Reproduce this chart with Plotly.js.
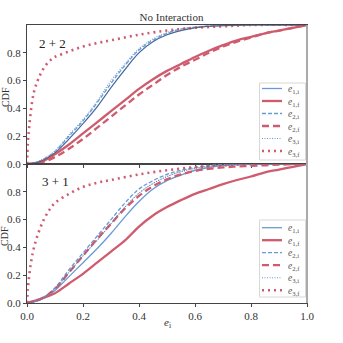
<!DOCTYPE html>
<html>
<head>
<meta charset="utf-8">
<script src="https://cdn.plot.ly/plotly-3.0.1.min.js"></script>
<style>
  body { margin: 0; background: #fff; }
  #plot { width: 343px; height: 343px; }
</style>
</head>
<body>
<div id="plot"></div>
<script>
// eccentricity grids (x) and CDF values
var xi = [0, 0.02, 0.05, 0.1, 0.15, 0.2, 0.25, 0.3, 0.35, 0.4, 0.45, 0.5, 0.55, 0.6, 0.65, 0.7, 0.8, 0.9, 1.0];
var xf = [0, 0.05, 0.1, 0.15, 0.2, 0.25, 0.3, 0.35, 0.4, 0.45, 0.5, 0.55, 0.6, 0.65, 0.7, 0.75, 0.8, 0.85, 0.9, 0.95, 1.0];
var x3f = [0, 0.003, 0.008, 0.015, 0.025, 0.04, 0.06, 0.08, 0.1, 0.15, 0.2, 0.25, 0.3, 0.4, 0.5, 0.6, 0.7, 0.8, 1.0];

// top panel: 2+2
var top_e1i = [0, 0.005, 0.02, 0.08, 0.18, 0.29, 0.41, 0.55, 0.68, 0.80, 0.88, 0.93, 0.96, 0.98, 0.99, 0.995, 1, 1, 1];
var top_e2i = [0, 0.006, 0.025, 0.09, 0.2, 0.31, 0.44, 0.58, 0.71, 0.82, 0.89, 0.94, 0.97, 0.985, 0.993, 0.997, 1, 1, 1];
var top_e3i = [0, 0.007, 0.028, 0.095, 0.21, 0.32, 0.45, 0.60, 0.72, 0.83, 0.90, 0.945, 0.97, 0.985, 0.993, 0.997, 1, 1, 1];
var top_e1f = [0, 0.015, 0.07, 0.14, 0.22, 0.30, 0.38, 0.46, 0.54, 0.61, 0.67, 0.72, 0.77, 0.815, 0.855, 0.89, 0.915, 0.94, 0.96, 0.98, 1];
var top_e2f = [0, 0.01, 0.05, 0.11, 0.18, 0.26, 0.34, 0.42, 0.50, 0.57, 0.64, 0.70, 0.75, 0.80, 0.845, 0.88, 0.91, 0.94, 0.96, 0.98, 1];
var top_e3f = [0, 0.15, 0.27, 0.40, 0.52, 0.61, 0.69, 0.74, 0.77, 0.81, 0.845, 0.87, 0.89, 0.93, 0.96, 0.98, 0.99, 1, 1];

// bottom panel: 3+1
var bot_e1i = [0, 0.006, 0.025, 0.09, 0.19, 0.29, 0.39, 0.50, 0.62, 0.73, 0.82, 0.88, 0.92, 0.955, 0.975, 0.988, 0.997, 1, 1];
var bot_e2i = [0, 0.008, 0.03, 0.11, 0.24, 0.36, 0.48, 0.60, 0.72, 0.82, 0.88, 0.925, 0.955, 0.975, 0.988, 0.995, 1, 1, 1];
var bot_e3i = [0, 0.007, 0.028, 0.10, 0.22, 0.34, 0.45, 0.57, 0.69, 0.79, 0.86, 0.91, 0.945, 0.968, 0.983, 0.992, 0.998, 1, 1];
var bot_e1f = [0, 0.03, 0.07, 0.14, 0.21, 0.29, 0.37, 0.45, 0.55, 0.63, 0.69, 0.74, 0.785, 0.82, 0.855, 0.885, 0.91, 0.94, 0.96, 0.98, 1];
var bot_e2f = [0, 0.03, 0.10, 0.22, 0.34, 0.46, 0.57, 0.68, 0.77, 0.84, 0.89, 0.925, 0.95, 0.965, 0.975, 0.982, 0.987, 0.991, 0.995, 0.998, 1];
var bot_e3f = [0, 0.10, 0.20, 0.30, 0.40, 0.50, 0.60, 0.67, 0.72, 0.785, 0.835, 0.865, 0.885, 0.925, 0.955, 0.978, 0.99, 1, 1];

var names = ['<i>e</i><sub>1,i</sub>', '<i>e</i><sub>1,f</sub>', '<i>e</i><sub>2,i</sub>',
             '<i>e</i><sub>2,f</sub>', '<i>e</i><sub>3,i</sub>', '<i>e</i><sub>3,f</sub>'];
var panelLabels = ['2 + 2', '3 + 1'];
var tickVals = [0, 0.2, 0.4, 0.6, 0.8, 1.0];
var tickText = ['0.0', '0.2', '0.4', '0.6', '0.8', '1.0'];

var blue = '#6a9ad6';
var red = '#cf5b6e';

// line style for each series (same order as names)
var styles = [
	{color: blue, width: 1.3, dash: 'solid'},
	{color: red, width: 2.3, dash: 'solid'},
	{color: blue, width: 1.3, dash: '4px,2px'},
	{color: red, width: 2.3, dash: '7px,4px'},
	{color: blue, width: 1.1, dash: '1px,1.5px'},
	{color: red, width: 2.6, dash: '2px,4px'}
];

function panel(xs, ys, xa, ya){
	var t = [];
	for(var i = 0; i < ys.length; i++){
		var l = JSON.parse(JSON.stringify(styles[i]));
		l.shape = 'spline';
		t.push({x: xs[i], y: ys[i], name: names[i], type: 'scatter', mode: 'lines',
			line: l, xaxis: xa, yaxis: ya, showlegend: false});
	}
	return t;
}

var xsets = [xi, xf, xi, xf, xi, x3f];
var pdata = panel(xsets, [top_e1i, top_e1f, top_e2i, top_e2f, top_e3i, top_e3f], 'x', 'y')
	.concat(panel(xsets, [bot_e1i, bot_e1f, bot_e2i, bot_e2f, bot_e3i, bot_e3f], 'x2', 'y2'));

// thin dark line seen inside the blue bundle
pdata.push({x: xi, y: top_e1i, xaxis: 'x', yaxis: 'y', type: 'scatter', mode: 'lines', showlegend: false,
	line: {color: '#333', width: 0.5, shape: 'spline'}});
pdata.push({x: xi, y: bot_e3i, xaxis: 'x2', yaxis: 'y2', type: 'scatter', mode: 'lines', showlegend: false,
	line: {color: '#555', width: 0.6, dash: '1px,1px', shape: 'spline'}});

var serif = 'Liberation Serif, DejaVu Serif, serif';
var font = {family: serif, size: 11, color: '#333'};

var axisBase = {
	range: [0, 1],
	showgrid: false,
	zeroline: false,
	showline: true,
	mirror: true,
	linecolor: '#444',
	linewidth: 1,
	ticks: 'outside',
	ticklen: 3,
	tickcolor: '#444',
	tickfont: font
};

function ax(extra){
	var a = JSON.parse(JSON.stringify(axisBase));
	for(var k in extra){ a[k] = extra[k]; }
	return a;
}

// hand-built legends (plotly's legend rows are too tall for this size)
var W = 343, H = 343, ML = 27, MR = 36, MT = 25, MB = 40;
function px(v){ return (v - ML) / (W - ML - MR); }
function py(v){ return (H - MB - v) / (H - MT - MB); }

var shapes = [];
var annotations = [];

function legendBox(top, bottom, rowTop){
	shapes.push({type: 'rect', xref: 'paper', yref: 'paper', x0: px(259.5), x1: px(305.5), y0: py(bottom), y1: py(top),
		line: {color: '#d8d8d8', width: 1}, fillcolor: 'rgba(255,255,255,0.9)', layer: 'above'});
	for(var i = 0; i < names.length; i++){
		var yy = rowTop + i * 12.5;
		var l = JSON.parse(JSON.stringify(styles[i]));
		shapes.push({type: 'line', xref: 'paper', yref: 'paper', x0: px(262), x1: px(282), y0: py(yy), y1: py(yy),
			line: l, layer: 'above'});
		annotations.push({text: names[i], xref: 'paper', yref: 'paper', x: px(286), y: py(yy + 1),
			xanchor: 'left', yanchor: 'middle', showarrow: false,
			font: {family: serif, size: 9.5, color: '#555'}});
	}
}
legendBox(83, 160, 88.5);
legendBox(220, 297, 227.7);

annotations.push({text: panelLabels[0], x: 0.035, y: 0.865, xref: 'x', yref: 'y', xanchor: 'left', showarrow: false,
	font: {family: serif, size: 13, color: '#222'}});
annotations.push({text: panelLabels[1], x: 0.046, y: 0.875, xref: 'x2', yref: 'y2', xanchor: 'left', showarrow: false,
	font: {family: serif, size: 13, color: '#222'}});

// axis titles placed by hand, tucked against the left edge
var cdfFont = {family: serif, size: 10, color: '#333'};
annotations.push({text: 'CDF', xref: 'paper', yref: 'paper', x: px(5), y: py(97), textangle: -90,
	xanchor: 'center', yanchor: 'middle', showarrow: false, font: cdfFont});
annotations.push({text: 'CDF', xref: 'paper', yref: 'paper', x: px(5), y: py(236), textangle: -90,
	xanchor: 'center', yanchor: 'middle', showarrow: false, font: cdfFont});
annotations.push({text: '<i>e</i><sub>i</sub>', xref: 'paper', yref: 'paper', x: px(167), y: py(323),
	xanchor: 'center', yanchor: 'middle', showarrow: false, font: font});

// light right-hand spine
shapes.push({type: 'line', xref: 'paper', yref: 'paper', x0: 1, x1: 1, y0: 0, y1: 1, line: {color: '#aaa', width: 2}});

var layout = {
	width: W, height: H,
	margin: {l: ML, r: MR, t: MT, b: MB},
	paper_bgcolor: '#fff', plot_bgcolor: '#fff',
	showlegend: false,
	title: {text: 'No Interaction', font: font, x: px(167), xanchor: 'center', y: 1 - 17 / H, yanchor: 'middle'},
	xaxis: ax({anchor: 'y', showticklabels: false, tickvals: tickVals}),
	yaxis: ax({domain: [0.5, 1], anchor: 'x', tickvals: tickVals.slice(0, 5), ticktext: tickText.slice(0, 5)}),
	xaxis2: ax({anchor: 'y2', tickvals: tickVals, ticktext: tickText}),
	yaxis2: ax({domain: [0, 0.5], anchor: 'x2', tickvals: tickVals.slice(0, 5), ticktext: tickText.slice(0, 5)}),
	annotations: annotations,
	shapes: shapes
};

Plotly.newPlot('plot', pdata, layout, {displayModeBar: false, staticPlot: true});
</script>
</body>
</html>
